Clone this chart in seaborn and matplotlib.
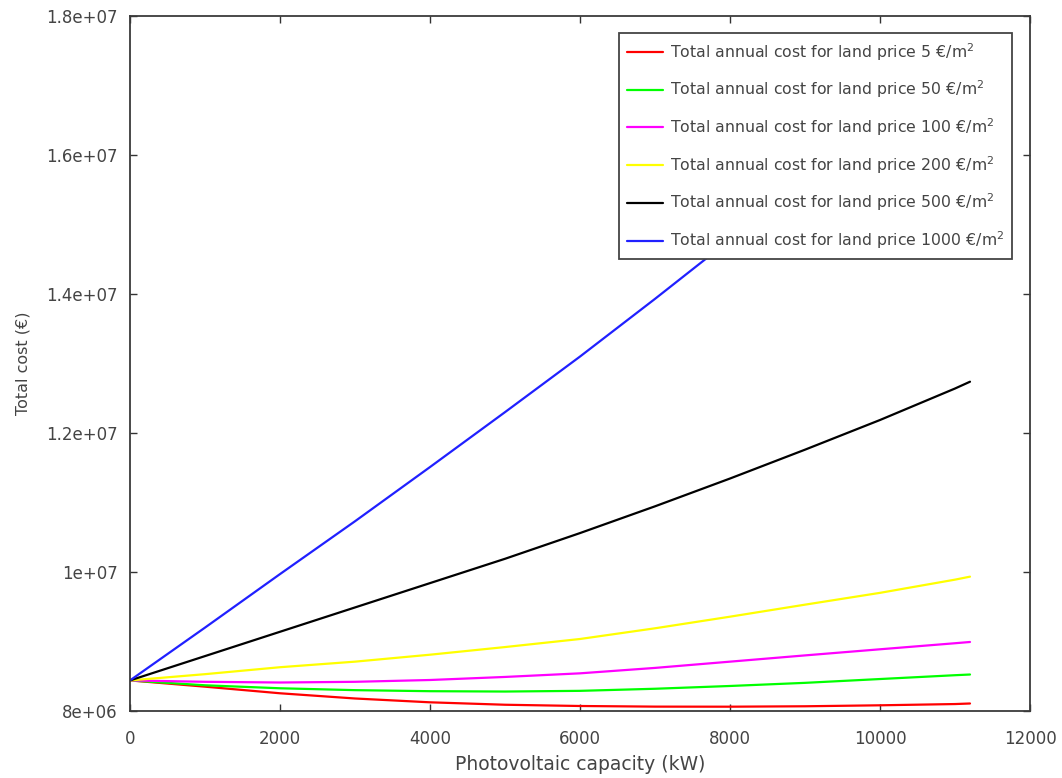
import matplotlib
matplotlib.use("Agg")
import matplotlib.pyplot as plt
import seaborn as sns
import pandas as pd
from matplotlib.ticker import FuncFormatter, MultipleLocator

# Photovoltaic capacity (kW)
capacity = [0, 1000, 2000, 3000, 4000, 5000, 6000, 7000, 8000, 9000, 10000, 11000, 11200]

# Total annual cost (EUR) per land price
cost_5 = [8.44e6, 8.35e6, 8.255e6, 8.18e6, 8.125e6, 8.09e6, 8.072e6, 8.063e6, 8.062e6, 8.068e6, 8.082e6, 8.10e6, 8.108e6]
cost_50 = [8.44e6, 8.37e6, 8.327e6, 8.30e6, 8.285e6, 8.28e6, 8.29e6, 8.32e6, 8.36e6, 8.405e6, 8.46e6, 8.515e6, 8.525e6]
cost_100 = [8.44e6, 8.42e6, 8.41e6, 8.42e6, 8.446e6, 8.49e6, 8.542e6, 8.62e6, 8.71e6, 8.80e6, 8.888e6, 8.975e6, 8.993e6]
cost_200 = [8.44e6, 8.53e6, 8.63e6, 8.71e6, 8.81e6, 8.92e6, 9.036e6, 9.19e6, 9.357e6, 9.53e6, 9.70e6, 9.89e6, 9.933e6]
cost_500 = [8.44e6, 8.79e6, 9.14e6, 9.49e6, 9.84e6, 10.19e6, 10.56e6, 10.945e6, 11.345e6, 11.76e6, 12.187e6, 12.64e6, 12.738e6]
cost_1000 = [8.44e6, 9.20e6, 9.97e6, 10.73e6, 11.51e6, 12.30e6, 13.10e6, 13.93e6, 14.78e6, 15.65e6, 16.53e6, 17.43e6, 17.62e6]

land_prices = ["5", "50", "100", "200", "500", "1000"]
series = [cost_5, cost_50, cost_100, cost_200, cost_500, cost_1000]
colors = ["#ff0000", "#00ff00", "#ff00ff", "#ffff00", "#000000", "#2020ff"]

labels = [f"Total annual cost for land price {p} €/m$^2$" for p in land_prices]

rows = []
for lab, vals in zip(labels, series):
    for x, y in zip(capacity, vals):
        rows.append({"capacity": x, "cost": y, "series": lab})
df = pd.DataFrame(rows)

sns.set_theme(style="ticks")
plt.rcParams["font.family"] = ["DejaVu Sans"]
plt.rcParams["mathtext.fontset"] = "dejavusans"

fig = plt.figure(figsize=(10.62, 7.78), dpi=100)
ax = fig.add_axes([130 / 1062, 1 - 711 / 778, 900 / 1062, 695 / 778])

sns.lineplot(data=df, x="capacity", y="cost", hue="series", hue_order=labels,
             palette=dict(zip(labels, colors)), ax=ax, linewidth=1.6, legend=True)

ax.set_xlim(0, 12000)
ax.set_ylim(8e6, 1.8e7)
ax.xaxis.set_major_locator(MultipleLocator(2000))
ax.yaxis.set_major_locator(MultipleLocator(2e6))
ax.yaxis.set_major_formatter(FuncFormatter(lambda v, p: f"{v:g}"))

textc = "#444444"
for s in ax.spines.values():
    s.set_color("#3a3a3a")
    s.set_linewidth(1.3)
    s.set_visible(True)
ax.tick_params(direction="in", length=5, width=1, colors="#333333",
               top=True, right=True, labelsize=12, labelcolor=textc)
ax.tick_params(axis="x", pad=14)
ax.tick_params(axis="y", pad=9)

ax.set_xlabel("Photovoltaic capacity (kW)", fontsize=13.5, color=textc, labelpad=5)
ax.set_ylabel("Total cost (€)", fontsize=11.5, color=textc, labelpad=11)

leg = ax.legend(loc="upper right", bbox_to_anchor=((1012 - 130) / 900, (711 - 33) / 695),
                fontsize=11.3, frameon=True, fancybox=False, framealpha=1,
                edgecolor="#444444", handlelength=2.3, handletextpad=0.45,
                labelspacing=1.02, borderpad=0.5, borderaxespad=0)
leg.get_frame().set_linewidth(1.3)
for t in leg.get_texts():
    t.set_color(textc)

fig.savefig("out.png", dpi=100)
